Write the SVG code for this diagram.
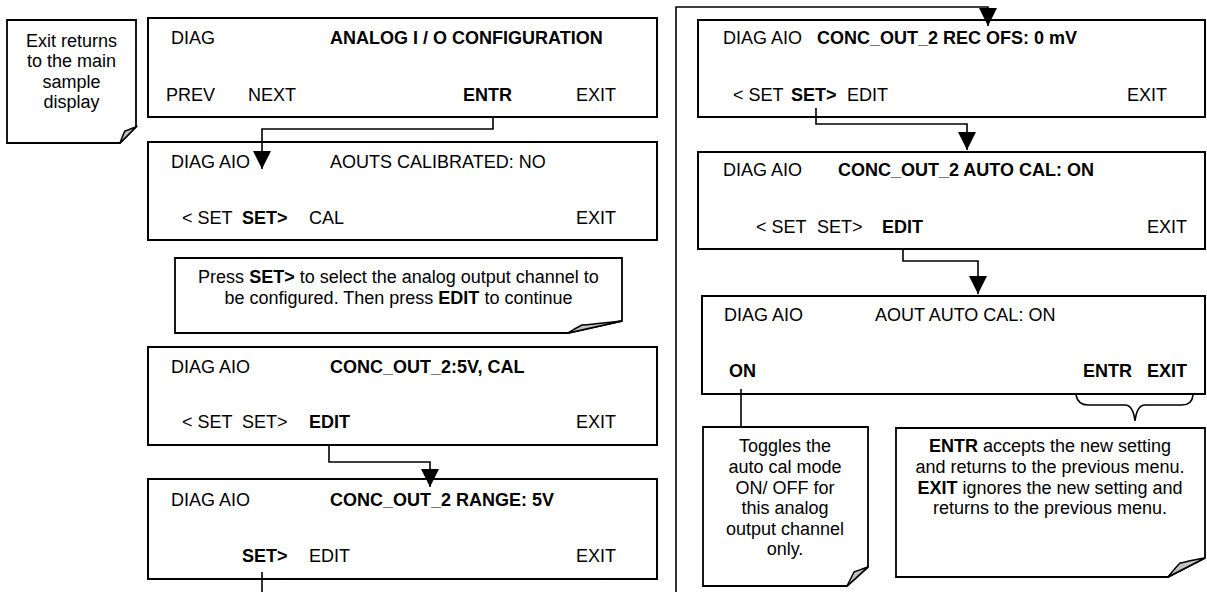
<svg xmlns="http://www.w3.org/2000/svg" width="1207" height="592" viewBox="0 0 1207 592">
<defs>
<style>
.box{fill:#fff;stroke:#000;stroke-width:2}
.note{fill:#fff;stroke:#000;stroke-width:1.8}
.fold{fill:#c0c0c0;stroke:#000;stroke-width:1.5}
.t{font-family:"Liberation Sans",Arial,sans-serif;font-size:18px;fill:#000}
.b{font-weight:bold}
.c{text-anchor:middle}
.con{fill:none;stroke:#000;stroke-width:1.6}
</style>
<marker id="arr" viewBox="0 0 18 18" refX="18" refY="9" markerWidth="18" markerHeight="18" markerUnits="userSpaceOnUse" orient="auto">
<path d="M0,0 L18,9 L0,18 Z" fill="#000"/>
</marker>
</defs>

<g id="note-exit">
<path class="note" d="M7,20 H136 V127 L120,143 H7 Z"/>
<path class="fold" d="M120,143 C122,138 123,134 125,131 C129,130 132,128 136,127 Z"/>
<text class="t c" x="71.5" y="46.5">Exit returns</text>
<text class="t c" x="71.5" y="67">to the main</text>
<text class="t c" x="71.5" y="87.5">sample</text>
<text class="t c" x="71.5" y="108">display</text>
</g>

<g id="screen1">
<rect class="box" x="148" y="18" width="509" height="99"/>
<text class="t" x="171" y="44">DIAG</text>
<text class="t b" x="330" y="44">ANALOG I / O CONFIGURATION</text>
<text class="t" x="166" y="101">PREV</text>
<text class="t" x="248" y="101">NEXT</text>
<text class="t b" x="463" y="101">ENTR</text>
<text class="t" x="576" y="101">EXIT</text>
</g>

<g id="screen2">
<rect class="box" x="148" y="142" width="509" height="98"/>
<text class="t" x="171" y="168">DIAG AIO</text>
<text class="t" x="330" y="168">AOUTS CALIBRATED: NO</text>
<text class="t" x="182" y="224">&lt; SET</text>
<text class="t b" x="242" y="224">SET&gt;</text>
<text class="t" x="309" y="224">CAL</text>
<text class="t" x="576" y="224">EXIT</text>
</g>

<g id="note-press">
<path class="note" d="M175,258 H622 V321 L568,333 H175 Z"/>
<path class="fold" d="M568,333 C574,329 578,327 582,325 C596,324 610,322 622,321 Z"/>
<text class="t c" x="398.5" y="283">Press <tspan class="b">SET&gt;</tspan> to select the analog output channel to</text>
<text class="t c" x="398.5" y="304">be configured. Then press <tspan class="b">EDIT</tspan> to continue</text>
</g>

<g id="screen3">
<rect class="box" x="148" y="347" width="509" height="98"/>
<text class="t" x="171" y="373">DIAG AIO</text>
<text class="t b" x="330" y="373">CONC_OUT_2:5V, CAL</text>
<text class="t" x="182" y="428">&lt; SET</text>
<text class="t" x="242" y="428">SET&gt;</text>
<text class="t b" x="309" y="428">EDIT</text>
<text class="t" x="576" y="428">EXIT</text>
</g>

<g id="screen4">
<rect class="box" x="148" y="479" width="509" height="100"/>
<text class="t" x="171" y="506">DIAG AIO</text>
<text class="t b" x="330" y="506">CONC_OUT_2 RANGE: 5V</text>
<text class="t b" x="242" y="562">SET&gt;</text>
<text class="t" x="309" y="562">EDIT</text>
<text class="t" x="576" y="562">EXIT</text>
</g>

<g id="screen5">
<rect class="box" x="698" y="20" width="507" height="97"/>
<text class="t" x="723" y="44">DIAG AIO</text>
<text class="t b" x="817" y="44">CONC_OUT_2 REC OFS: 0 mV</text>
<text class="t" x="733" y="101">&lt; SET</text>
<text class="t b" x="791" y="101">SET&gt;</text>
<text class="t" x="847" y="101">EDIT</text>
<text class="t" x="1127" y="101">EXIT</text>
</g>

<g id="screen6">
<rect class="box" x="698" y="152" width="507" height="97"/>
<text class="t" x="723" y="176">DIAG AIO</text>
<text class="t b" x="838" y="176">CONC_OUT_2 AUTO CAL: ON</text>
<text class="t" x="756" y="233">&lt; SET</text>
<text class="t" x="817" y="233">SET&gt;</text>
<text class="t b" x="882" y="233">EDIT</text>
<text class="t" x="1147" y="233">EXIT</text>
</g>

<g id="screen7">
<rect class="box" x="702" y="296" width="503" height="98"/>
<text class="t" x="724" y="321">DIAG AIO</text>
<text class="t" x="875" y="321">AOUT AUTO CAL: ON</text>
<text class="t b" x="729" y="377">ON</text>
<text class="t b" x="1083" y="377">ENTR</text>
<text class="t b" x="1147" y="377">EXIT</text>
</g>

<g id="note-toggle">
<path class="note" d="M703,427 H868 V567 L847,586 H703 Z"/>
<path class="fold" d="M847,586 C850,580 852,576 854,572 C859,570 863,569 868,567 Z"/>
<text class="t c" x="785" y="452">Toggles the</text>
<text class="t c" x="785" y="473">auto cal mode</text>
<text class="t c" x="785" y="493.5">ON/ OFF for</text>
<text class="t c" x="785" y="514">this analog</text>
<text class="t c" x="785" y="534.5">output channel</text>
<text class="t c" x="785" y="555">only.</text>
</g>

<g id="note-entr">
<path class="note" d="M896,428 H1205 V558 L1168,577 H896 Z"/>
<path class="fold" d="M1168,577 C1173,571 1176,567 1180,563 C1189,561 1197,559 1205,558 Z"/>
<text class="t c" x="1050" y="452"><tspan class="b">ENTR</tspan> accepts the new setting</text>
<text class="t c" x="1050" y="473">and returns to the previous menu.</text>
<text class="t c" x="1050" y="493.5"><tspan class="b">EXIT</tspan> ignores the new setting and</text>
<text class="t c" x="1050" y="514">returns to the previous menu.</text>
</g>

<g id="connectors">
<path class="con" d="M493,117 V129 H262 V169" marker-end="url(#arr)"/>
<path class="con" d="M329,445 V462 H430 V487" marker-end="url(#arr)"/>
<path class="con" d="M262,572 V592"/>
<path class="con" d="M676,592 V7 H988 V26" marker-end="url(#arr)"/>
<path class="con" d="M816,108 V124 H967 V150" marker-end="url(#arr)"/>
<path class="con" d="M903,249 V261 H978 V294" marker-end="url(#arr)"/>
<path class="con" d="M741,389 V427"/>
<path class="con" d="M1076,395 Q1078,405 1088,405 H1125 Q1133,405 1135,421 Q1137,405 1145,405 H1182 Q1192,405 1193,395"/>
</g>
</svg>
